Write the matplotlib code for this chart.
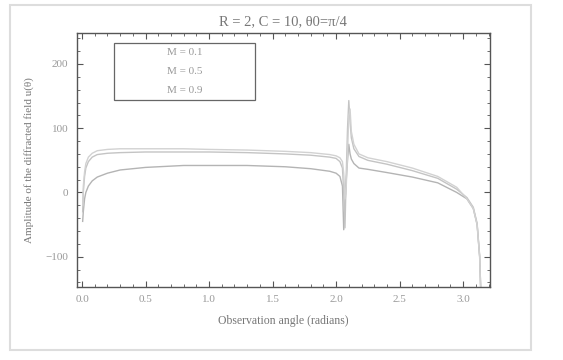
import numpy as np
import matplotlib.pyplot as plt
from matplotlib.patches import Rectangle
from matplotlib.ticker import MultipleLocator

# observation angle samples (radians) and read-off amplitudes per Mach number
theta = [0.005, 0.01, 0.02, 0.03, 0.05, 0.08, 0.12, 0.2, 0.3, 0.5, 0.8, 1.0,
         1.3, 1.6, 1.8, 1.95, 2.0, 2.03, 2.05, 2.06, 2.07, 2.08, 2.09, 2.10,
         2.11, 2.12, 2.14, 2.18, 2.25, 2.4, 2.6, 2.8, 2.95, 3.03, 3.08, 3.11,
         3.13, 3.14]
u_m01 = [-45, -30, -10, 0, 10, 18, 24, 30, 35, 39, 42, 42,
         42, 40, 37, 33, 30, 25, 10, -58, -20, 20, 50, 75,
         60, 52, 45, 38, 36, 31, 24, 15, 0, -10, -25, -50,
         -100, -160]
u_m05 = [-30, 0, 25, 38, 48, 55, 59, 61, 62, 63, 63, 63,
         62, 60, 58, 55, 53, 48, 38, 0, -55, 30, 100, 143,
         110, 85, 68, 56, 50, 44, 34, 22, 5, -8, -23, -48,
         -98, -160]
u_m09 = [-20, 10, 32, 45, 55, 61, 65, 67, 68, 68, 68, 67,
         66, 64, 62, 59, 57, 54, 48, 30, -10, 10, 60, 120,
         130, 95, 75, 60, 54, 48, 38, 25, 8, -10, -25, -50,
         -100, -160]
mach = ["0.1", "0.5", "0.9"]
series = [u_m01, u_m05, u_m09]
colors = ["#b4b4b4", "#c4c4c4", "#d2d2d2"]

plt.rcParams["font.family"] = ["Liberation Serif", "DejaVu Serif"]
TXT = "#777777"

fig = plt.figure(figsize=(5.63, 3.60), dpi=100)
ax = fig.add_axes([0.136, 0.203, 0.734, 0.705])

for u, c, m in zip(series, colors, mach):
    ax.plot(theta, u, color=c, lw=1.0, label=f"M = {m}")

ax.set_xlim(-0.043, 3.21)
ax.set_ylim(-147, 248)
ax.xaxis.set_major_locator(MultipleLocator(0.5))
ax.xaxis.set_minor_locator(MultipleLocator(0.1))
ax.yaxis.set_major_locator(MultipleLocator(100))
ax.yaxis.set_minor_locator(MultipleLocator(20))
ax.xaxis.set_major_formatter(lambda v, p: f"{v:.1f}")
ax.yaxis.set_major_formatter(lambda v, p: f"{v:.0f}".replace("-", "\u2212"))
ax.tick_params(which="both", direction="in", top=True, right=True,
               color="#555555", labelcolor="#999999", labelsize=8)
ax.tick_params(which="major", length=4, width=0.8, pad=6)
ax.tick_params(which="minor", length=2, width=0.6)
for s in ax.spines.values():
    s.set_color("#555555"); s.set_linewidth(1.0)

ax.set_title("R = 2, C = 10, \u03b80=\u03c0/4", color=TXT, fontsize=10.5, pad=6)
ax.set_xlabel("Observation angle (radians)", color=TXT, fontsize=8.5, labelpad=8)
ax.set_ylabel("Amplitude of the diffracted field u(\u03b8)", color=TXT, fontsize=8, labelpad=8)

# legend box with centred entries
ax.add_patch(Rectangle((0.091, 0.736), 0.341, 0.225, transform=ax.transAxes,
                       fill=False, ec="#666666", lw=0.9))
for i, m in enumerate(mach):
    ax.text(0.2615, 0.925 - i * 0.075, f"M = {m}", transform=ax.transAxes,
            ha="center", va="center", fontsize=8, color="#999999")

# faint outer frame of the scanned figure
fig.patches.append(Rectangle((10 / 563, 10 / 360), 521 / 563, 345 / 360,
                             transform=fig.transFigure, fill=False,
                             ec="#dddddd", lw=1.5))

fig.savefig("out.png", dpi=100)
